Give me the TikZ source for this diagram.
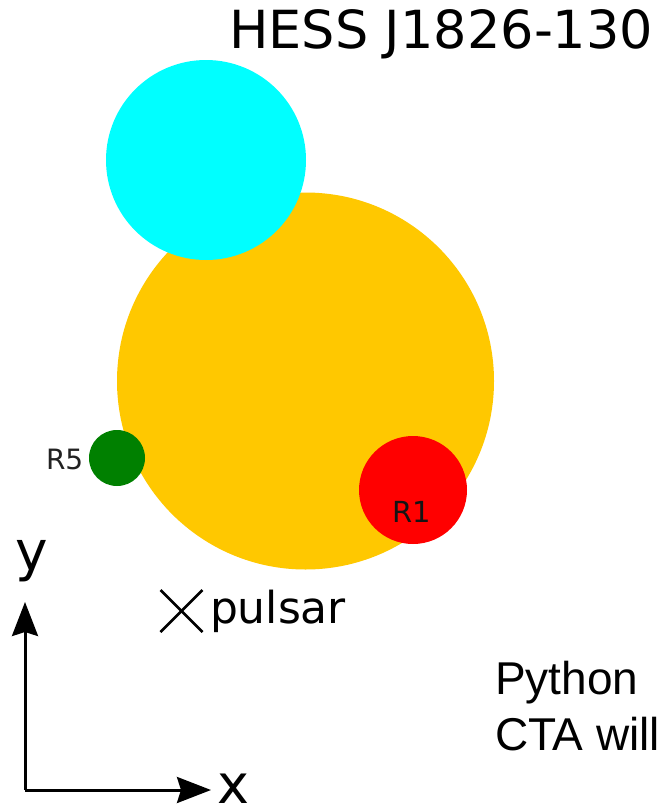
\documentclass[tikz,border=0pt]{standalone}
\usepackage{fontspec}
\setmainfont{DejaVu Sans}
\newfontfamily\arialfont{Liberation Sans}
\usetikzlibrary{arrows.meta}
\definecolor{cyanc}{HTML}{00FFFF}
\definecolor{orangec}{HTML}{FFC800}
\definecolor{greenc}{HTML}{008000}
\definecolor{redc}{HTML}{FF0000}
\definecolor{labelc}{HTML}{222222}
\tikzset{
  blob/.style={circle, draw=none, inner sep=0pt},
  txt/.style={anchor=base west, inner sep=0pt, outer sep=0pt},
  axisline/.style={line width=3pt, -{Stealth[length=34pt,width=26pt,inset=4pt]}},
  crossline/.style={line width=2.6pt}
}
\begin{document}
\begin{tikzpicture}[x=1pt,y=-1pt]
\useasboundingbox (0,0) rectangle (658,811);
\fill[white] (0,0) rectangle (658,811);
% circles
\node[blob, fill=orangec, minimum size=377pt] (main) at (305.5,381) {};
\node[blob, fill=cyanc, minimum size=200pt] (top) at (206,160) {};
\node[blob, fill=greenc, minimum size=56pt] (r5) at (117,458) {};
\node[blob, fill=redc, minimum size=108pt] (r1) at (413,490) {};
% labels
\node[txt, font=\fontsize{52.5}{60}\selectfont] (title) at (229,48) {HESS J1826-130};
\node[txt, text=labelc, font=\fontsize{28}{32}\selectfont] (r5lab) at (46,469) {R5};
\node[txt, text=labelc!60!black, font=\fontsize{29}{33}\selectfont] (r1lab) at (392,522) {R1};
% pulsar
\coordinate (pulsar) at (181.5,611);
\draw[crossline] (pulsar) ++(-21,-21) -- ++(42,42);
\draw[crossline] (pulsar) ++(-21,21) -- ++(42,-42);
\node[txt, font=\fontsize{44}{50}\selectfont] (pulsarlab) at (210,623) {pulsar};
% axes
\coordinate (origin) at (25,790);
\coordinate (ytip) at (25,602);
\coordinate (xtip) at (211,790);
\draw[axisline] (origin) -- (ytip);
\draw[axisline] (origin) -- (xtip);
\node[txt, font=\fontsize{55}{60}\selectfont] (ylab) at (15,570) {y};
\node[txt, font=\fontsize{54}{60}\selectfont] (xlab) at (217,803) {x};
% side text
\node[txt, font=\arialfont\fontsize{46}{52}\selectfont] (python) at (495,694) {Python};
\node[txt, font=\arialfont\fontsize{46}{52}\selectfont] (cta) at (495,750) {CTA will};
\end{tikzpicture}
\end{document}
